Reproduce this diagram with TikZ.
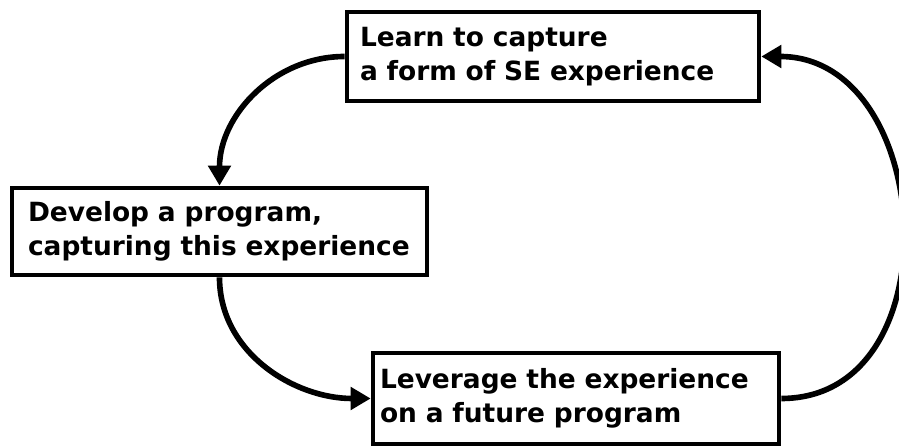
\documentclass[tikz,border=0pt]{standalone}
\usepackage{fontspec}
\setmainfont{DejaVu Sans}
\usetikzlibrary{arrows.meta}
\tikzset{
    stage node/.style={draw, line width=3.3pt, fill=white, align=left, inner xsep=0pt, font=\bfseries\fontsize{18.8}{24.6}\selectfont},
    cycle arrow/.style={-{Triangle[length=0.5cm, width=0.55cm]}, line width=4pt},
}

\begin{document}
\begin{tikzpicture}
            \useasboundingbox (0,0) rectangle (22.475,11.15);
            % the three stages
            \node[stage node, minimum width=10.3cm, minimum height=2.225cm, text width=9.65cm] (learn) at (13.825,9.7375)
                {Learn to capture\\a form of SE experience};
            \node[stage node, minimum width=10.375cm, minimum height=2.175cm, text width=9.575cm] (develop) at (5.4875,5.3625)
                {Develop a program,\\capturing this experience};
            \node[stage node, minimum width=10.15cm, minimum height=2.275cm, text width=9.8cm] (leverage) at (14.4,1.1875)
                {Leverage the experience\\on a future program};
            % arrows round the cycle
            \draw[cycle arrow] (learn.west) to[out=180, in=90] (develop.north);
            \draw[cycle arrow] (develop.south) to[out=-90, in=180] (leverage.west);
            \draw[cycle arrow] (leverage.east) to[out=0, in=0, looseness=1.3] (learn.east);
        \end{tikzpicture}
\end{document}
